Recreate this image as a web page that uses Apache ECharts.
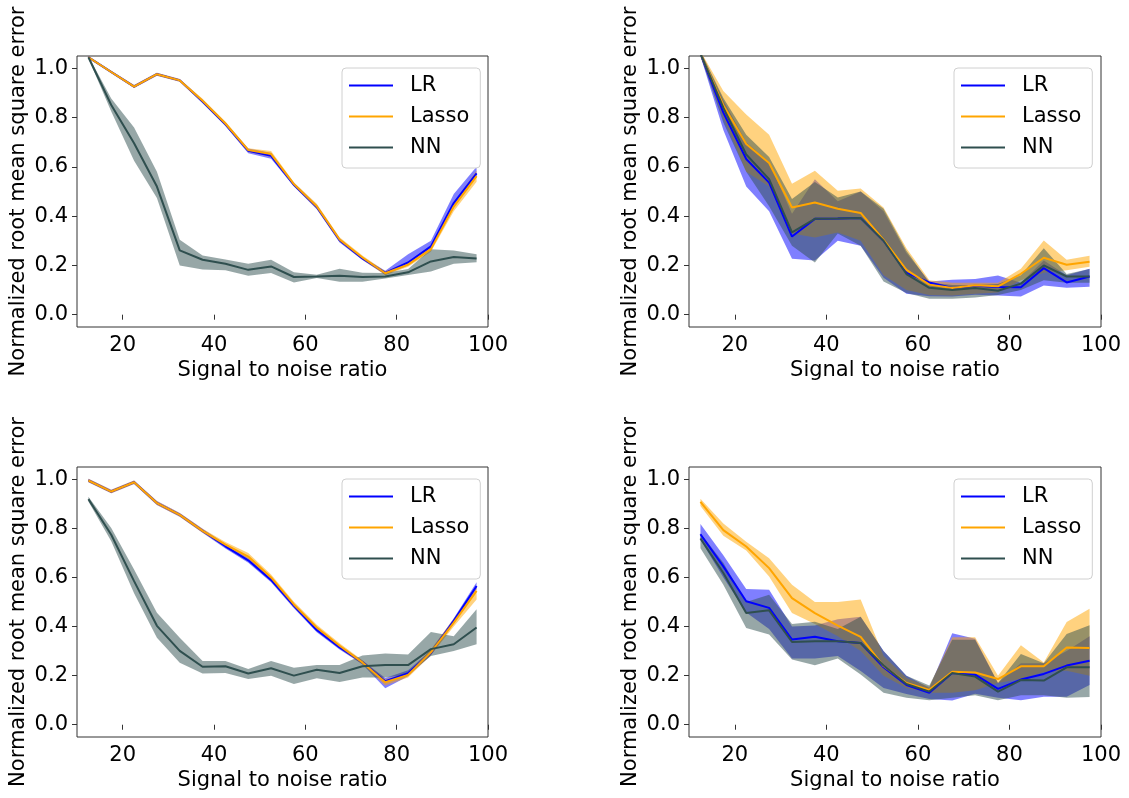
<!DOCTYPE html>
<html>
<head>
<meta charset="utf-8">
<script src="https://cdn.jsdelivr.net/npm/echarts@6/dist/echarts.min.js"></script>
<style>
html,body{margin:0;padding:0;background:#fff;}
#chart{width:1129px;height:798px;}
</style>
</head>
<body>
<div id="chart"></div>
<script>
// ---- data ----
const X = [12.5,17.5,22.5,27.5,32.5,37.5,42.5,47.5,52.5,57.5,62.5,67.5,72.5,77.5,82.5,87.5,92.5,97.5];
const X_TICKS = [20,40,60,80,100];
const Y_TICKS = [0,0.2,0.4,0.6,0.8,1.0];
const METHODS = ['LR','Lasso','NN'];

// Panel 1 (top-left)
const P1_LR      = [1.045,0.985,0.926,0.976,0.951,0.865,0.773,0.665,0.645,0.527,0.437,0.302,0.228,0.170,0.212,0.277,0.453,0.574];
const P1_LR_LO   = [1.040,0.980,0.920,0.970,0.945,0.858,0.766,0.655,0.633,0.520,0.428,0.293,0.222,0.162,0.200,0.265,0.435,0.560];
const P1_LR_HI   = [1.050,0.990,0.932,0.982,0.957,0.872,0.780,0.675,0.657,0.534,0.446,0.310,0.234,0.178,0.245,0.300,0.490,0.600];
const P1_LASSO   = [1.045,0.985,0.926,0.976,0.951,0.868,0.776,0.668,0.652,0.530,0.440,0.305,0.232,0.168,0.203,0.266,0.439,0.562];
const P1_LASSO_LO= [1.040,0.980,0.920,0.970,0.945,0.860,0.768,0.660,0.640,0.522,0.430,0.296,0.224,0.160,0.195,0.255,0.420,0.540];
const P1_LASSO_HI= [1.050,0.990,0.932,0.982,0.957,0.876,0.784,0.676,0.664,0.538,0.450,0.314,0.240,0.176,0.212,0.278,0.455,0.585];
const P1_NN      = [1.045,0.851,0.696,0.520,0.261,0.223,0.207,0.182,0.196,0.153,0.155,0.158,0.153,0.155,0.172,0.216,0.234,0.228];
const P1_NN_LO   = [1.040,0.825,0.625,0.474,0.200,0.183,0.180,0.158,0.169,0.131,0.149,0.134,0.134,0.147,0.161,0.175,0.207,0.213];
const P1_NN_HI   = [1.050,0.877,0.760,0.580,0.304,0.240,0.224,0.207,0.223,0.172,0.162,0.186,0.170,0.169,0.185,0.266,0.261,0.245];

// Panel 2 (top-right)
const P2_LR      = [1.060,0.820,0.632,0.536,0.317,0.389,0.390,0.392,0.300,0.170,0.131,0.108,0.117,0.112,0.111,0.189,0.131,0.155];
const P2_LR_LO   = [1.050,0.750,0.520,0.420,0.227,0.220,0.300,0.280,0.150,0.085,0.075,0.074,0.081,0.078,0.074,0.118,0.109,0.113];
const P2_LR_HI   = [1.070,0.870,0.700,0.620,0.410,0.550,0.460,0.500,0.420,0.250,0.135,0.142,0.145,0.159,0.130,0.220,0.160,0.186];
const P2_LASSO   = [1.060,0.850,0.693,0.616,0.435,0.455,0.430,0.413,0.304,0.182,0.122,0.108,0.119,0.115,0.166,0.231,0.203,0.215];
const P2_LASSO_LO= [1.050,0.800,0.580,0.520,0.330,0.313,0.334,0.300,0.160,0.100,0.080,0.078,0.085,0.090,0.140,0.170,0.180,0.195];
const P2_LASSO_HI= [1.070,0.908,0.813,0.730,0.531,0.584,0.503,0.512,0.435,0.270,0.140,0.130,0.130,0.130,0.186,0.301,0.223,0.239];
const P2_NN      = [1.060,0.840,0.650,0.550,0.334,0.389,0.390,0.392,0.300,0.165,0.109,0.100,0.108,0.097,0.126,0.200,0.155,0.155];
const P2_NN_LO   = [1.050,0.780,0.580,0.440,0.280,0.212,0.330,0.280,0.135,0.088,0.065,0.065,0.070,0.080,0.100,0.140,0.130,0.130];
const P2_NN_HI   = [1.070,0.880,0.730,0.640,0.470,0.539,0.476,0.500,0.430,0.260,0.130,0.120,0.120,0.125,0.160,0.270,0.165,0.185];

// Panel 3 (bottom-left)
const P3_LR      = [0.995,0.950,0.988,0.903,0.855,0.790,0.727,0.670,0.590,0.484,0.386,0.315,0.254,0.177,0.210,0.293,0.423,0.565];
const P3_LR_LO   = [0.988,0.943,0.981,0.895,0.847,0.782,0.718,0.660,0.580,0.475,0.377,0.306,0.246,0.149,0.198,0.283,0.412,0.552];
const P3_LR_HI   = [1.002,0.957,0.995,0.911,0.863,0.798,0.736,0.680,0.600,0.493,0.395,0.324,0.262,0.190,0.222,0.303,0.434,0.580];
const P3_LASSO   = [0.995,0.950,0.988,0.903,0.855,0.790,0.734,0.685,0.600,0.490,0.396,0.322,0.254,0.173,0.203,0.295,0.416,0.545];
const P3_LASSO_LO= [0.988,0.943,0.981,0.895,0.847,0.782,0.724,0.670,0.588,0.479,0.385,0.312,0.245,0.160,0.192,0.283,0.400,0.510];
const P3_LASSO_HI= [1.002,0.957,0.995,0.911,0.863,0.798,0.744,0.700,0.612,0.501,0.407,0.332,0.263,0.185,0.214,0.307,0.432,0.560];
const P3_NN      = [0.919,0.774,0.585,0.403,0.301,0.236,0.238,0.209,0.230,0.200,0.224,0.211,0.238,0.243,0.243,0.308,0.328,0.396];
const P3_NN_LO   = [0.909,0.747,0.536,0.354,0.253,0.209,0.211,0.186,0.200,0.166,0.189,0.174,0.192,0.192,0.205,0.280,0.300,0.328];
const P3_NN_HI   = [0.929,0.801,0.632,0.456,0.354,0.260,0.260,0.227,0.260,0.232,0.243,0.243,0.282,0.290,0.286,0.378,0.360,0.470];

// Panel 4 (bottom-right)
const P4_LR      = [0.776,0.645,0.503,0.476,0.347,0.358,0.340,0.333,0.234,0.162,0.130,0.211,0.204,0.146,0.184,0.207,0.241,0.261];
const P4_LR_LO   = [0.754,0.600,0.457,0.390,0.270,0.270,0.280,0.219,0.150,0.125,0.105,0.099,0.126,0.110,0.100,0.114,0.114,0.162];
const P4_LR_HI   = [0.818,0.690,0.553,0.550,0.400,0.404,0.430,0.440,0.300,0.200,0.150,0.373,0.350,0.170,0.250,0.250,0.300,0.360];
const P4_LASSO   = [0.908,0.793,0.726,0.638,0.516,0.455,0.404,0.358,0.239,0.170,0.142,0.216,0.213,0.186,0.238,0.238,0.315,0.313];
const P4_LASSO_LO= [0.891,0.770,0.710,0.604,0.455,0.410,0.360,0.300,0.200,0.150,0.130,0.130,0.140,0.170,0.186,0.215,0.220,0.200];
const P4_LASSO_HI= [0.921,0.820,0.745,0.678,0.570,0.500,0.500,0.510,0.280,0.190,0.155,0.356,0.356,0.200,0.324,0.254,0.419,0.473];
const P4_NN      = [0.759,0.618,0.455,0.466,0.337,0.340,0.340,0.333,0.241,0.166,0.135,0.211,0.196,0.135,0.182,0.180,0.234,0.234];
const P4_NN_LO   = [0.719,0.570,0.394,0.368,0.266,0.242,0.270,0.205,0.130,0.110,0.100,0.110,0.120,0.100,0.120,0.120,0.110,0.113];
const P4_NN_HI   = [0.780,0.660,0.500,0.530,0.410,0.420,0.390,0.440,0.300,0.200,0.160,0.346,0.346,0.170,0.288,0.250,0.370,0.405];

const PANELS = [
  [[P1_LR,P1_LR_LO,P1_LR_HI],[P1_LASSO,P1_LASSO_LO,P1_LASSO_HI],[P1_NN,P1_NN_LO,P1_NN_HI]],
  [[P2_LR,P2_LR_LO,P2_LR_HI],[P2_LASSO,P2_LASSO_LO,P2_LASSO_HI],[P2_NN,P2_NN_LO,P2_NN_HI]],
  [[P3_LR,P3_LR_LO,P3_LR_HI],[P3_LASSO,P3_LASSO_LO,P3_LASSO_HI],[P3_NN,P3_NN_LO,P3_NN_HI]],
  [[P4_LR,P4_LR_LO,P4_LR_HI],[P4_LASSO,P4_LASSO_LO,P4_LASSO_HI],[P4_NN,P4_NN_LO,P4_NN_HI]]
];

// ---- styling ----
const LINE_COLORS = ['#0000ff','#ffa500','#2f4f4f'];
const BAND_COLORS = ['rgba(0,0,255,0.5)','rgba(255,165,0,0.5)','rgba(47,79,79,0.5)'];
const FONT = 'DejaVu Sans';
const FS = 21;
const GRIDS = [
  {left:77, top:56, width:411, height:271},
  {left:689, top:56, width:412, height:271},
  {left:77, top:467, width:411, height:270},
  {left:689, top:467, width:412, height:270}
];
const LEGEND_POS = [[342,68],[954,68],[342,479],[954,479]];

const chart = echarts.init(document.getElementById('chart'), null, {renderer:'canvas'});

function bandRenderer(lo, hi, color) {
  return function (params, api) {
    if (params.dataIndex !== 0) return null;
    const pts = [];
    for (let j = 0; j < X.length; j++) pts.push(api.coord([X[j], hi[j]]));
    for (let j = X.length - 1; j >= 0; j--) pts.push(api.coord([X[j], lo[j]]));
    return {
      type:'polygon',
      shape:{points:pts},
      style:{fill:color, stroke:null}
    };
  };
}

const grid = [], xAxis = [], yAxis = [], series = [], legend = [];
GRIDS.forEach((g, i) => {
  grid.push(Object.assign({show:true, borderColor:'#333', borderWidth:1, backgroundColor:'transparent'}, g));
  xAxis.push({
    type:'value', gridIndex:i, min:10, max:100,
    name:'Signal to noise ratio', nameLocation:'middle', nameGap:33,
    nameTextStyle:{fontFamily:FONT, fontSize:FS, color:'#000'},
    axisLine:{show:false},
    axisTick:{show:true, length:5, inside:false, customValues:X_TICKS, lineStyle:{color:'#333'}},
    axisLabel:{customValues:X_TICKS, fontFamily:FONT, fontSize:FS, color:'#000', margin:8},
    splitLine:{show:false}
  });
  yAxis.push({
    type:'value', gridIndex:i, min:-0.05, max:1.05,
    name:'Normalized root mean square error', nameLocation:'middle', nameGap:48,
    nameTextStyle:{fontFamily:FONT, fontSize:FS, color:'#000'},
    axisLine:{show:false},
    axisTick:{show:true, length:5, customValues:Y_TICKS, lineStyle:{color:'#333'}},
    axisLabel:{customValues:Y_TICKS, fontFamily:FONT, fontSize:FS, color:'#000', margin:9,
               formatter:(v)=>Number(v).toFixed(1)},
    splitLine:{show:false}
  });
  legend.push({
    show:true, orient:'vertical', left:LEGEND_POS[i][0], top:LEGEND_POS[i][1],
    data:METHODS.map(n => ({name:n, icon:'rect'})), selectedMode:false,
    itemWidth:44, itemHeight:2, itemGap:10,
    padding:[7,11,10,7],
    borderColor:'#d0d0d0', borderWidth:1, borderRadius:4,
    backgroundColor:'rgba(255,255,255,0.8)',
    textStyle:{fontFamily:FONT, fontSize:FS, color:'#000', lineHeight:20, padding:[0,0,0,12]}
  });
  const panel = PANELS[i];
  panel.forEach((m, k) => {
    series.push({
      type:'custom', name:METHODS[k]+' band', xAxisIndex:i, yAxisIndex:i,
      silent:true, clip:true, z:1,
      renderItem: bandRenderer(m[1], m[2], BAND_COLORS[k]),
      encode:{x:0, y:1},
      data: X.map((x, j) => [x, m[1][j], m[2][j]])
    });
  });
  panel.forEach((m, k) => {
    series.push({
      type:'line', name:METHODS[k], xAxisIndex:i, yAxisIndex:i,
      symbol:'none', z:3, clip:true,
      lineStyle:{color:LINE_COLORS[k], width:2},
      itemStyle:{color:LINE_COLORS[k]},
      data: X.map((x, j) => [x, m[0][j]])
    });
  });
});

chart.setOption({
  animation:false,
  backgroundColor:'#fff',
  textStyle:{fontFamily:FONT},
  grid, xAxis, yAxis, legend, series
});
</script>
</body>
</html>
